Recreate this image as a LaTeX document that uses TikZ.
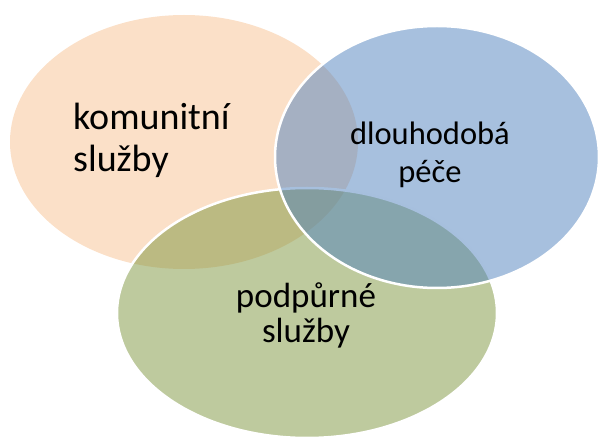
\documentclass[tikz,border=0pt]{standalone}
\usepackage{fontspec}
\setmainfont{Carlito}
\usepackage{xcolor}
\usepackage{tikz}
\usetikzlibrary{shapes.geometric, positioning}

\definecolor{vennPeach}{RGB}{247,193,145}
\definecolor{vennGreen}{RGB}{125,149,61}
\definecolor{vennBlue}{RGB}{79,129,189}

\begin{document}
\begin{tikzpicture}[
    x=1pt, y=1pt,
    % one style for the three sets, the colour is given per node
    venn/.style={
        ellipse, fill opacity=0.5, inner sep=0pt, outer sep=0pt
    },
    rim/.style={draw=white, line width=2.5pt},
    settext/.style={
        inner sep=0pt, text=black
    }
]
\useasboundingbox (0,0) rectangle (598,437);
\clip (0,0) rectangle (598,437);

% 1. The three sets (peach first, then green, blue on top)
\node[venn, fill=vennPeach, minimum width=348, minimum height=254] (komunitni) at (184,295) {};
\node[venn, rim, fill=vennGreen, minimum width=380, minimum height=250] (podpurne) at (307,124) {};
\node[venn, rim, fill=vennBlue, minimum width=324, minimum height=262] (dlouhodoba) at (437,280) {};

% 2. Texts of the sets (base = baseline of the last line)
\node[settext, anchor=base west, align=left, font=\fontsize{38}{42}\selectfont] (komunitniText) at (73,265) {komunitní\\služby};
\node[settext, anchor=base, align=center, font=\fontsize{32.5}{38}\selectfont] (dlouhodobaText) at (430,254) {dlouhodobá\\péče};
\node[settext, anchor=base, align=center, font=\fontsize{35}{35}\selectfont] (podpurneText) at (306,94) {podpůrné\\služby};

\end{tikzpicture}
\end{document}
